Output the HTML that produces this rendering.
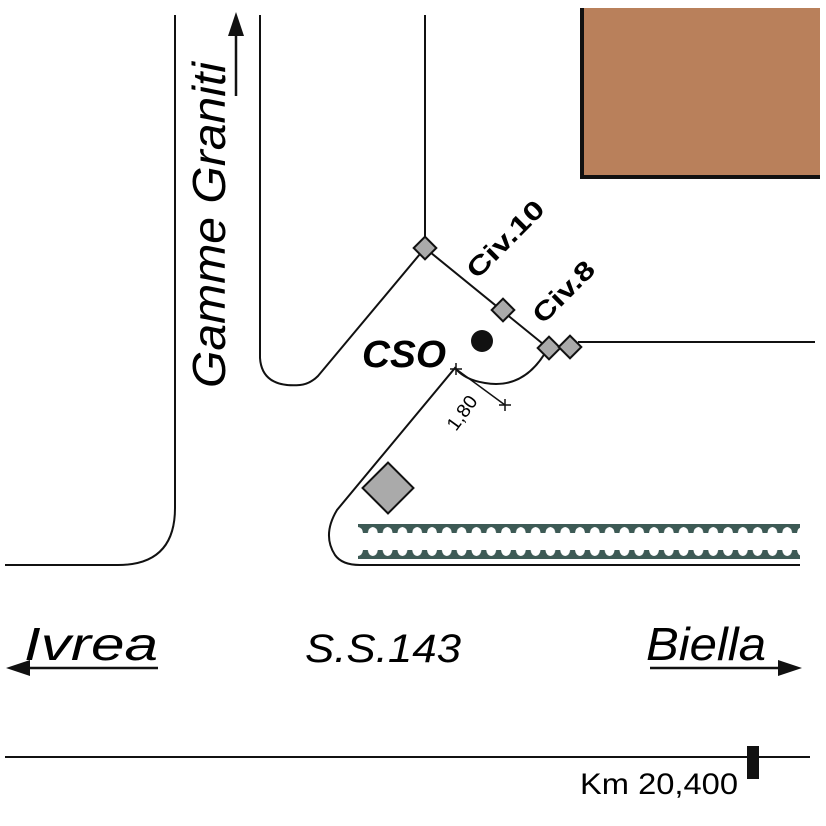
<!DOCTYPE html>
<html><head><meta charset="utf-8"><style>
html,body{margin:0;padding:0;background:#fff}
svg{display:block}
text{font-family:"Liberation Sans",Arial,sans-serif}
</style></head><body>
<svg width="826" height="826" viewBox="0 0 826 826" xmlns="http://www.w3.org/2000/svg">
<defs>
<pattern id="t1" x="358" y="524" width="14.8" height="10" patternUnits="userSpaceOnUse">
<path d="M0 0 H14.8 V3 Q10.5 3.5 9.8 9 H5 Q4.3 3.5 0 3 Z" fill="#3d5a55"/>
</pattern>
<pattern id="t2" x="358" y="549" width="14.8" height="10" patternUnits="userSpaceOnUse">
<path d="M0 10 H14.8 V7 Q10.5 6.5 9.8 1 H5 Q4.3 6.5 0 7 Z" fill="#3d5a55"/>
</pattern>
</defs>
<rect x="580" y="8" width="240" height="170" fill="#b9805b"/>
<path d="M582 8 V177 H820" fill="none" stroke="#111" stroke-width="4"/>
<g fill="none" stroke="#111" stroke-width="2">
<path d="M175 15 V508 Q175 565 118 565 H5"/>
<path d="M260 15 V358 Q262 388 300 385 Q310 384 318 376 L425 248 V15"/>
<path d="M425 248 L548 348"/>
<path d="M578 342 H815"/>
<path d="M548 348 Q525 390 485 383 Q465 380 455 368 L337 510 Q322 535 335 555 Q342 565 360 565 H800"/>
<path d="M5 757 H810"/>
</g>
<rect x="358" y="524" width="442" height="10" fill="url(#t1)"/>
<rect x="358" y="549" width="442" height="10" fill="url(#t2)"/>
<g fill="#aaa" stroke="#111" stroke-width="2">
<rect x="-8" y="-8" width="16" height="16" transform="translate(425,248) rotate(45)"/>
<rect x="-8" y="-8" width="16" height="16" transform="translate(503,310) rotate(45)"/>
<rect x="-8" y="-8" width="16" height="16" transform="translate(549,348) rotate(45)"/>
<rect x="-8" y="-8" width="16" height="16" transform="translate(570,347) rotate(45)"/>
<rect x="-18" y="-18" width="36" height="36" transform="translate(388,488) rotate(45)"/>
</g>
<circle cx="482" cy="341" r="11" fill="#111"/>
<g stroke="#111" stroke-width="1.5" fill="none">
<path d="M456 369 L505 405"/>
<path d="M450 369 H462 M456 363 V375 M499 405 H511 M505 399 V411"/>
</g>
<text x="0" y="0" font-size="19" textLength="38" lengthAdjust="spacingAndGlyphs" transform="translate(456,432) rotate(-54)">1,80</text>
<text x="362" y="367" font-size="38" font-weight="bold" font-style="italic" textLength="84" lengthAdjust="spacingAndGlyphs">CSO</text>
<text x="0" y="0" font-size="26" font-weight="bold" textLength="98" lengthAdjust="spacingAndGlyphs" transform="translate(477,280) rotate(-45)">Civ.10</text>
<text x="0" y="0" font-size="26" font-weight="bold" textLength="76" lengthAdjust="spacingAndGlyphs" transform="translate(543,325) rotate(-45)">Civ.8</text>
<text x="0" y="0" font-size="46" font-style="italic" textLength="326" lengthAdjust="spacingAndGlyphs" transform="translate(225,388) rotate(-90)">Gamme Graniti</text>
<path d="M236 96 V28" stroke="#111" stroke-width="2.5"/>
<path d="M236 12 L228 36 L244 36 Z" fill="#111"/>
<text x="24" y="660" font-size="46" font-style="italic" textLength="134" lengthAdjust="spacingAndGlyphs">Ivrea</text>
<path d="M22 668 H158" stroke="#111" stroke-width="2.5"/>
<path d="M6 668 L30 660 L30 676 Z" fill="#111"/>
<text x="305" y="662" font-size="40" font-style="italic" textLength="156" lengthAdjust="spacingAndGlyphs">S.S.143</text>
<text x="646" y="660" font-size="46" font-style="italic" textLength="120" lengthAdjust="spacingAndGlyphs">Biella</text>
<path d="M650 668 H786" stroke="#111" stroke-width="2.5"/>
<path d="M802 668 L778 660 L778 676 Z" fill="#111"/>
<rect x="747" y="746" width="12" height="33" fill="#111"/>
<text x="580" y="794" font-size="30" textLength="158" lengthAdjust="spacingAndGlyphs">Km 20,400</text>
</svg>
</body></html>
